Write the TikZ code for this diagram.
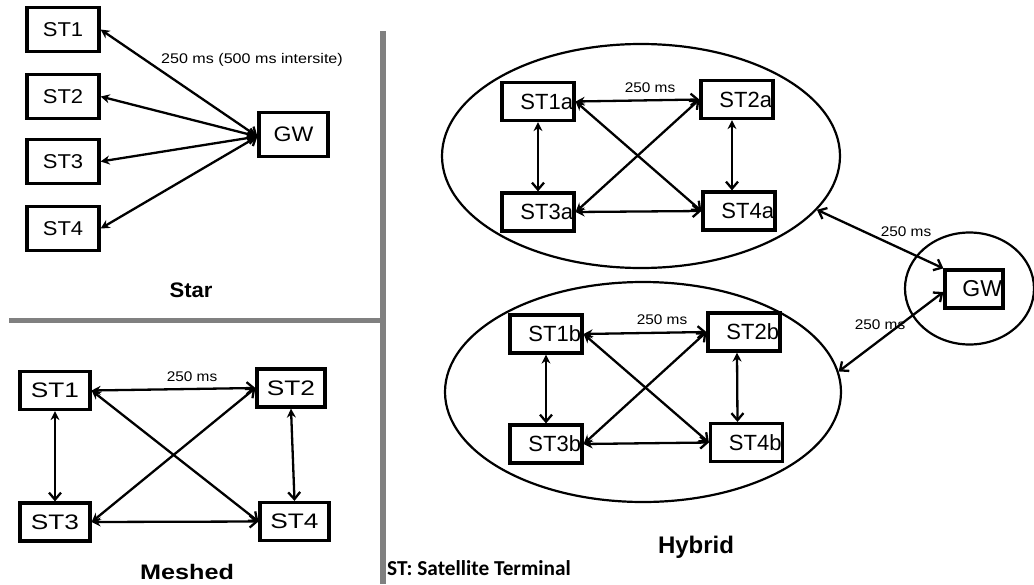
\documentclass[tikz,border=0pt]{standalone}
\usepackage{fontspec}
\usepackage{graphicx}
\setmainfont{Liberation Sans}
\newfontfamily\carlito{Carlito}
\usetikzlibrary{arrows.meta,shapes.geometric}
\newcommand\sx[2]{\scalebox{#1}[1]{#2}}
\begin{document}
\begin{tikzpicture}[x=1pt,y=-1pt,
  sbox/.style={draw, line width=3.2pt, inner sep=0pt, minimum width=72pt, minimum height=44pt,
    font=\fontsize{20}{24}\selectfont},
  mbox/.style={draw, line width=3.2pt, inner sep=0pt, minimum width=70pt, minimum height=38pt,
    font=\fontsize{21}{24}\selectfont},
  hbox/.style={draw, line width=3.2pt, inner sep=1pt, text width=70pt, align=right,
    minimum height=38pt, font=\fontsize{22}{24}\selectfont},
  grp/.style={draw, ellipse, line width=2.2pt, inner sep=0pt},
  conn/.style={line width=2.3pt, {Stealth[length=9pt,width=9pt]}-{Straight Barb[length=7pt,width=12pt]}},
  conn2/.style={line width=2.3pt, {Straight Barb[length=7pt,width=12pt]}-{Straight Barb[length=7pt,width=12pt]}},
  lbl/.style={font=\fontsize{14}{16}\selectfont, inner sep=0pt},
  ttl/.style={font=\fontsize{21}{24}\selectfont\bfseries, inner sep=0pt},
  divider/.style={draw=gray, line width=5.5pt}
]
\useasboundingbox (0,0) rectangle (1034,584);

% dividers
\draw[divider] (383,31) -- (383,584);
\draw[divider] (9,320.5) -- (386,320.5);

% ---------- Star ----------
\node[sbox] (s1) at (63,29.5) {\sx{1.1}{ST1}};
\node[sbox] (s2) at (63,96.5) {\sx{1.1}{ST2}};
\node[sbox] (s3) at (63,161.5) {\sx{1.1}{ST3}};
\node[sbox] (s4) at (63,228.5) {\sx{1.1}{ST4}};
\node[sbox, minimum width=69pt, font=\fontsize{21}{24}\selectfont] (sgw) at (293.5,134.5) {\sx{1.1}{GW}};
\foreach \s in {s1,s2,s3,s4}
  \draw[conn] (\s.east) -- ([yshift=-2pt]sgw.west);
\node[lbl] (slbl) at (252,60) {\sx{1.15}{250 ms (500 ms intersite)}};
\node[ttl] (stitle) at (191,290) {\sx{1.05}{Star}};

% ---------- Meshed ----------
\node[mbox] (m1) at (55,390.5) {\sx{1.25}{ST1}};
\node[mbox, minimum width=68pt] (m2) at (291,388) {\sx{1.25}{ST2}};
\node[mbox] (m3) at (55,522) {\sx{1.25}{ST3}};
\node[mbox, minimum width=69pt] (m4) at (294.5,521.5) {\sx{1.25}{ST4}};
\draw[conn] (m1.east) -- (m2.west);
\draw[conn] (m1.east) -- (m4.west);
\draw[conn] (m3.east) -- (m2.west);
\draw[conn] (m3.east) -- (m4.west);
\draw[conn] (m1.south) -- (m3.north);
\draw[conn] (m2.south) -- (m4.north);
\node[lbl] (mlbl) at (192,377) {\sx{1.1}{250 ms}};
\node[ttl] (mtitle) at (187,572) {\sx{1.2}{Meshed}};

% ---------- Hybrid ----------
\node[grp, minimum width=398pt, minimum height=224pt] (ea) at (641,156) {};
\node[grp, minimum width=396pt, minimum height=220pt] (eb) at (643,392) {};
\node[grp, minimum width=129pt, minimum height=112pt] (eg) at (969.5,288.5) {};

\node[hbox] (a1) at (538,101.5) {ST1a};
\node[hbox] (a2) at (737,99.5) {ST2a};
\node[hbox] (a3) at (538,212) {ST3a};
\node[hbox] (a4) at (739,211) {ST4a};
\draw[conn] (a1.east) -- (a2.west);
\draw[conn] (a1.east) -- (a4.west);
\draw[conn] (a3.east) -- (a2.west);
\draw[conn] (a3.east) -- (a4.west);
\draw[conn] (a1.south) -- (a3.north);
\draw[conn] ([xshift=-5pt]a2.south) -- ([xshift=-7pt]a4.north);
\node[lbl] (albl) at (650,88) {\sx{1.1}{250 ms}};

\node[hbox] (b1) at (546,334) {ST1b};
\node[hbox] (b2) at (744,332) {ST2b};
\node[hbox] (b3) at (546,444) {ST3b};
\node[hbox] (b4) at (746.5,442.5) {ST4b};
\draw[conn] (b1.east) -- (b2.west);
\draw[conn] (b1.east) -- (b4.west);
\draw[conn] (b3.east) -- (b2.west);
\draw[conn] (b3.east) -- (b4.west);
\draw[conn] (b1.south) -- (b3.north);
\draw[conn] ([xshift=-7pt]b2.south) -- ([xshift=-9pt]b4.north);
\node[lbl] (blbl) at (662,320) {\sx{1.1}{250 ms}};

\node[hbox, text width=56pt, font=\fontsize{23}{24}\selectfont] (hgw) at (974,289) {GW};
\draw[conn2] (ea.-17.6) -- (hgw.north west);
\draw[conn2] (eb.6.3) -- ([yshift=-3pt]hgw.west);
\node[lbl] (glbl1) at (906,232) {\sx{1.1}{250 ms}};
\node[lbl] (glbl2) at (880,325) {\sx{1.1}{250 ms}};

\node[ttl, font=\fontsize{24}{26}\selectfont\bfseries] (htitle) at (696,547) {Hybrid};
\node[anchor=west, inner sep=0pt, font=\carlito\bfseries\fontsize{21.3}{23}\selectfont] (legend) at (387,568) {ST: Satellite Terminal};
\end{tikzpicture}
\end{document}
